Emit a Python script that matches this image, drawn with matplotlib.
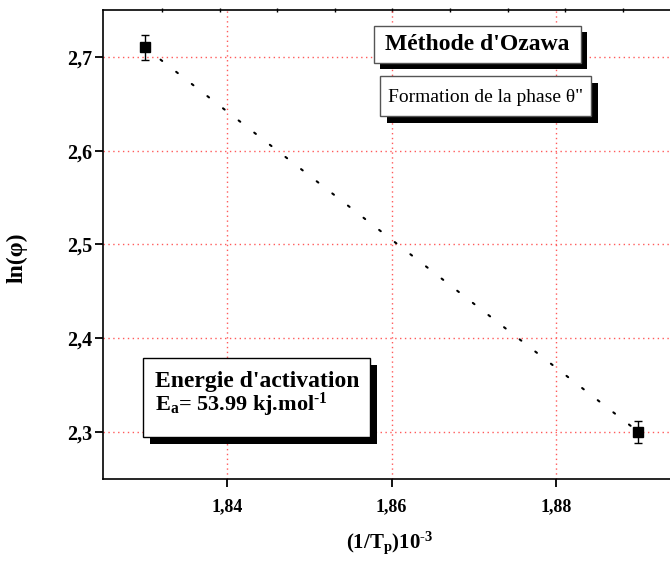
import numpy as np
import matplotlib
matplotlib.use("Agg")
import matplotlib.pyplot as plt
from matplotlib.patches import Rectangle
from matplotlib.ticker import FuncFormatter

plt.rcParams['font.family'] = ['Liberation Serif', 'DejaVu Serif']
plt.rcParams['mathtext.fontset'] = 'custom'
plt.rcParams['mathtext.rm'] = 'Liberation Serif:bold'
plt.rcParams['mathtext.bf'] = 'Liberation Serif:bold'
plt.rcParams['mathtext.default'] = 'rm'

# data
inv_tp = [1.83, 1.89]
ln_phi = [2.71, 2.30]
ln_phi_err = [0.013, 0.012]
xticks = [1.84, 1.86, 1.88]
yticks = [2.3, 2.4, 2.5, 2.6, 2.7]
top_ticks = [1.8321, 1.8391, 1.8461, 1.8531, 1.8601, 1.8671, 1.8741, 1.8811, 1.8881]

W, H = 670, 564
fig = plt.figure(figsize=(W/100, H/100), dpi=100)
ax = fig.add_axes([103/W, 1-478.7/H, 574/W, 468.7/H])

ax.plot(inv_tp, ln_phi, color='black', lw=1.5, linestyle=(0, (1, 8.5)), dash_capstyle='round')
ax.errorbar(inv_tp, ln_phi, yerr=ln_phi_err, fmt='s', color='black', ms=7,
            capsize=3.2, elinewidth=1, capthick=1, zorder=5)

ax.set_xlim(1.8249, 1.8947)
ax.set_ylim(2.25, 2.75)
ax.set_xticks(xticks)
ax.set_yticks(yticks)
ax.xaxis.set_major_formatter(FuncFormatter(lambda v, p: ('%.2f' % v).replace('.', ',')))
ax.yaxis.set_major_formatter(FuncFormatter(lambda v, p: ('%.1f' % v).replace('.', ',')))
ax.tick_params(direction='out', length=6, width=1.3)
ax.tick_params(axis='x', labelsize=13, pad=8)
ax.tick_params(axis='y', labelsize=14.5, pad=2)
for lab in ax.get_xticklabels() + ax.get_yticklabels():
    lab.set_fontweight('bold')
ax.tick_params(top=False, right=False)
ax.spines['right'].set_visible(False)
for s in ['left', 'bottom', 'top']:
    ax.spines[s].set_linewidth(1.2)

sec = ax.secondary_xaxis('top')
sec.set_xticks(top_ticks)
sec.tick_params(direction='inout', length=3, width=1, labeltop=False)
sec.spines['top'].set_visible(False)

ax.grid(True, color='#ff5a5a', lw=1, linestyle=(0, (1, 2.5)))
ax.set_axisbelow(True)

ax.set_xlabel(r'(1/T$_{p}$)10$^{\text{-3}}$', fontsize=15, fontweight='bold', labelpad=10)
ax.set_ylabel('ln(φ)', fontsize=17, fontweight='bold')
ax.yaxis.set_label_coords(-0.1307, 0.471)


def shadow_box(x0, y0, x1, y1, off, ec):
    fig.add_artist(Rectangle(((x0+off)/W, 1-(y1+off)/H), (x1-x0)/W, (y1-y0)/H,
                             transform=fig.transFigure, facecolor='black', edgecolor='none', zorder=6))
    fig.add_artist(Rectangle((x0/W, 1-y1/H), (x1-x0)/W, (y1-y0)/H,
                             transform=fig.transFigure, facecolor='white', edgecolor=ec, lw=1, zorder=7))


shadow_box(374, 26, 581, 63, 6, '#555555')
fig.text(477.5/W, 1-44.5/H, "Méthode d'Ozawa", ha='center', va='center', fontsize=17,
         fontweight='bold', zorder=8)

shadow_box(380, 76, 591, 116, 7, '#555555')
fig.text(485.5/W, 1-97/H, 'Formation de la phase θ"', ha='center', va='center', fontsize=14,
         zorder=8)

shadow_box(143, 358, 370, 437, 7, 'black')
fig.text(155/W, 1-381/H, "Energie d'activation", ha='left', va='center', fontsize=17,
         fontweight='bold', zorder=8)
fig.text(155/W, 1-405/H, r"E$_{a}$= 53.99 kj.mol$^{\text{-1}}$", ha='left', va='center', fontsize=16,
         fontweight='bold', zorder=8)

fig.savefig('out.png', dpi=100)
